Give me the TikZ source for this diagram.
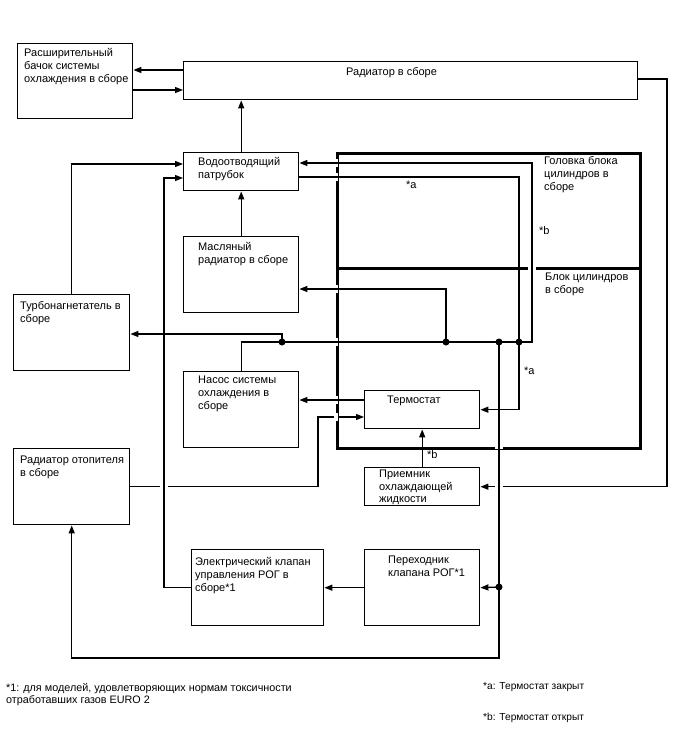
\documentclass[tikz,border=0pt]{standalone}
\usepackage{fontspec}
\setmainfont{Liberation Sans}
\usetikzlibrary{arrows.meta}

\begin{document}
\begin{tikzpicture}[x=1pt, y=-1pt,
    box/.style={draw, line width=1.4pt, anchor=north west, inner sep=0pt},
    wall/.style={draw, line width=3pt, anchor=north west, inner sep=0pt},
    txt/.style={anchor=north west, inner sep=0pt, align=left, font=\fontsize{11}{13}\selectfont},
    note/.style={anchor=north west, inner sep=0pt, align=left, font=\fontsize{10.8}{12.5}\selectfont},
    pipe/.style={line width=1.3pt},
    arr/.style={pipe, -{Triangle[length=8pt,width=6pt]}},
    dot/.style={circle, fill, inner sep=0pt, minimum size=7pt},
    cut/.style={draw=white, line width=4.5pt}]
        \useasboundingbox (0,0) rectangle (688,755);

        % boxes
        \node[box, minimum width=115, minimum height=75] (tank) at (17,43) {};
        \node[txt] (tank-t) at ([shift={(7,5)}]tank.north west) {Расширительный\\бачок системы\\охлаждения в сборе};

        \node[box, minimum width=454, minimum height=38] (rad) at (183,61) {};
        \node[txt] (rad-t) at ([shift={(163,6)}]rad.north west) {Радиатор в сборе};

        \node[box, minimum width=115, minimum height=38] (outlet) at (183,152) {};
        \node[txt] (outlet-t) at ([shift={(15,5)}]outlet.north west) {Водоотводящий\\патрубок};

        \node[box, minimum width=115, minimum height=76] (oil) at (183,236) {};
        \node[txt] (oil-t) at ([shift={(15,6)}]oil.north west) {Масляный\\радиатор в сборе};

        \node[box, minimum width=116, minimum height=76] (turbo) at (13,294) {};
        \node[txt] (turbo-t) at ([shift={(7,7)}]turbo.north west) {Турбонагнетатель в\\сборе};

        \node[box, minimum width=115, minimum height=76] (pump) at (183,371) {};
        \node[txt] (pump-t) at ([shift={(15,5)}]pump.north west) {Насос системы\\охлаждения в\\сборе};

        \node[box, minimum width=115, minimum height=38] (therm) at (364,390) {};
        \node[txt] (therm-t) at ([shift={(23,6)}]therm.north west) {Термостат};

        \node[box, minimum width=116, minimum height=76] (heater) at (13,448) {};
        \node[txt] (heater-t) at ([shift={(7,8)}]heater.north west) {Радиатор отопителя\\в сборе};

        \node[box, minimum width=115, minimum height=38] (recv) at (364,467) {};
        \node[txt, font=\fontsize{11}{12.6}\selectfont] (recv-t) at ([shift={(15,3)}]recv.north west) {Приемник\\охлаждающей\\жидкости};

        \node[box, minimum width=132, minimum height=76] (egr) at (191,549) {};
        \node[txt] (egr-t) at ([shift={(4,8)}]egr.north west) {Электрический клапан\\управления РОГ в\\сборе*1};

        \node[box, minimum width=115, minimum height=76] (adapt) at (364,549) {};
        \node[txt] (adapt-t) at ([shift={(24,7)}]adapt.north west) {Переходник\\клапана РОГ*1};

        % engine: head over block
        \node[wall, minimum width=303, minimum height=295] (block) at (336,152) {};
        \draw[line width=3pt] (block.west |- 0,268) -- (block.east |- 0,268);
        \node[txt] (head-t) at (544,156) {Головка блока\\цилиндров в\\сборе};
        \node[txt] (block-t) at (545,273) {Блок цилиндров\\в сборе};

        % junctions
        \node[dot] (j1) at (282,342) {};
        \node[dot] (j2) at (446,342) {};
        \node[dot] (j3) at (499,342) {};
        \node[dot] (j4) at (519,342) {};
        \node[dot] (j5) at (499,587) {};
        \coordinate (cb) at (532,163);
        \coordinate (ch) at (318,417);
        \coordinate (cr) at (667,79);
        \coordinate (cl) at (499,658);
        \coordinate (ce) at (164,178);

        % lines that get broken by crossings
        \draw[arr] (heater.east) -| (ch) -- (therm.west |- ch);
        \draw[arr] (rad.east |- cr) -- (cr) |- (recv.east);

        % gaps at crossings
        \foreach \y in {163,177,289,342,400,417}
            \draw[cut] (336,\y-4) -- (336,\y+4);
        \draw[cut] (528,268) -- (536,268);
        \draw[cut] (495,447) -- (503,447);
        \draw[cut] (495,486) -- (503,486);
        \draw[cut] (160,486) -- (168,486);

        % tank and radiator
        \draw[arr] (rad.west |- 0,70) -- (tank.east |- 0,70);
        \draw[arr] (tank.east |- 0,90) -- (rad.west |- 0,90);
        \draw[arr] (outlet.north) -- (outlet.north |- rad.south);
        \draw[arr] (oil.north) -- (outlet.south);
        \draw[arr] (turbo.north) |- (outlet.west |- 0,164);

        % pump and engine
        \draw[pipe] (pump.north) |- (j1.center);
        \draw[arr] (j1.center) |- (turbo.east |- 0,334);
        \draw[arr] (j1.center) -| (cb) -- (outlet.east |- cb);
        \draw[arr] (outlet.east |- 0,177) -| (j4.center) |- (therm.east);
        \draw[arr] (j2.center) |- (oil.east |- 0,289);
        \draw[arr] (therm.west |- 0,400) -- (pump.east |- 0,400);
        \draw[arr] (recv.north) -- (therm.south);

        % heater and EGR
        \draw[arr] (j3.center) -- (cl) -| (heater.south);
        \draw[arr] (j5.center) -- (adapt.east);
        \draw[arr] (adapt.west) -- (egr.east);
        \draw[arr] (egr.west) -| (ce) -- (outlet.west |- ce);

        % thermostat states
        \node[txt] (sa1) at (406,181) {*a};
        \node[txt] (sb1) at (539,226) {*b};
        \node[txt] (sa2) at (524,367) {*a};
        \node[txt] (sb2) at (427,450) {*b};

        % footnotes
        \node[note] (fn1) at (6,683) {*1: для моделей, удовлетворяющих нормам токсичности\\отработавших газов EURO 2};
        \node[note, font=\fontsize{10.2}{12}\selectfont] (fna) at (483,682) {*a: Термостат закрыт};
        \node[note, font=\fontsize{10.2}{12}\selectfont] (fnb) at (483,713) {*b: Термостат открыт};
\end{tikzpicture}
\end{document}
